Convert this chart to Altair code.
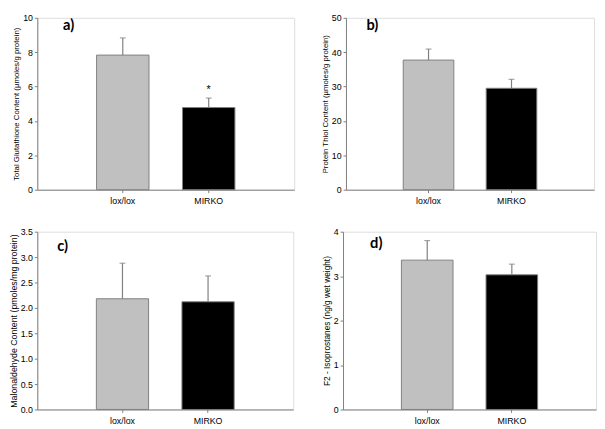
import altair as alt
import pandas as pd

groups = ["lox/lox", "MIRKO"]

glutathione = [7.83, 4.78]
glutathione_err = [1.00, 0.55]

thiol = [37.7, 29.5]
thiol_err = [3.2, 2.6]

mda = [2.18, 2.12]
mda_err = [0.70, 0.51]

isop = [3.36, 3.03]
isop_err = [0.44, 0.24]

bar_colors = ["#c0c0c0", "#000000"]
FONT = "Liberation Sans"


def panel(values, errs, title, ymax, ticks, fmt, width, height, label, lx, ly,
          title_size=8, star=None, pi=0.39, po=0.69):
    df = pd.DataFrame({"group": groups, "value": values, "err": errs})
    df["upper"] = df["value"] + df["err"]
    df["star"] = [""] * len(groups) if star is None else star
    xaxis = alt.Axis(title=None, labelAngle=0, tickSize=3,
                     labelFontSize=9, labelFont=FONT, labelColor="#000",
                     labelPadding=4, domainColor="#7f7f7f", tickColor="#7f7f7f")
    xscale = alt.Scale(paddingInner=pi, paddingOuter=po)

    def X():
        return alt.X("group:N", sort=groups, scale=xscale, axis=xaxis)

    yscale = alt.Scale(domain=[0, ymax], nice=False, zero=True)
    yaxis = alt.Axis(title=title, values=ticks, format=fmt, grid=False, tickSize=3,
                     labelFontSize=9, labelFont=FONT, labelColor="#000",
                     labelOverlap=False, labelBound=False, labelFlush=False,
                     labelPadding=2, titleFontSize=title_size, titleFont=FONT,
                     titleFontWeight="normal", titleColor="#000", titlePadding=2,
                     domainColor="#7f7f7f", tickColor="#7f7f7f")

    def Y(field):
        return alt.Y(field, scale=yscale, axis=yaxis, title=title)

    base = alt.Chart(df)
    bars = base.mark_bar(stroke="#7f7f7f", strokeWidth=1).encode(
        x=X(),
        y=Y("value:Q"),
        color=alt.Color("group:N", scale=alt.Scale(domain=groups, range=bar_colors),
                        legend=None),
    )
    err = base.mark_rule(color="#7f7f7f", strokeWidth=1.2).encode(
        x=X(), y=Y("value:Q"), y2="upper:Q")
    cap = base.mark_tick(color="#7f7f7f", thickness=1.2, size=6).encode(
        x=X(), y=Y("upper:Q"))
    layers = [bars, err, cap]
    if star is not None:
        st = base.mark_text(fontSize=11, font=FONT, baseline="bottom", dy=-3,
                            color="#000").encode(
            x=X(), y=Y("upper:Q"), text="star:N")
        layers.append(st)
    lab = alt.Chart(pd.DataFrame({"t": [label]})).mark_text(
        font="Lato", fontSize=15, fontWeight="bold", align="center",
        baseline="middle", color="#000").encode(
        text="t:N", x=alt.value(lx), y=alt.value(ly))
    layers.append(lab)
    return alt.layer(*layers).properties(width=width, height=height)


pa = panel(glutathione, glutathione_err,
           "Total Glutathione Content (\u00b5moles/g protein)", 10,
           [0, 2, 4, 6, 8, 10], "d", 263, 176, "a)", 32, 8, title_size=8,
           star=["", "*"])
pb = panel(thiol, thiol_err, "Protein Thiol Content (\u00b5moles/g protein)", 50,
           [0, 10, 20, 30, 40, 50], "d", 254, 176, "b)", 27, 8, title_size=8)
pc = panel(mda, mda_err, "Malonaldehyde Content (pmoles/mg protein)", 3.5,
           [0, 0.5, 1, 1.5, 2, 2.5, 3, 3.5], ".1f", 262, 182, "c)", 26, 15,
           title_size=9)
pd_ = panel(isop, isop_err, "F2 - Isoprostanes (ng/g wet weight)", 4,
            [0, 1, 2, 3, 4], "d", 259, 182, "d)", 34, 12, title_size=8.5)

row1 = alt.hconcat(pa, pb, spacing=26)
row2 = alt.hconcat(pc, pd_, spacing=28)
chart = alt.vconcat(row1, row2, spacing=21).properties(
    padding={"left": 0, "top": 0, "right": 0, "bottom": 0}
).configure_view(stroke=None).configure(background="white")

chart.save("out.html", embed_options={"renderer": "svg", "actions": False})
